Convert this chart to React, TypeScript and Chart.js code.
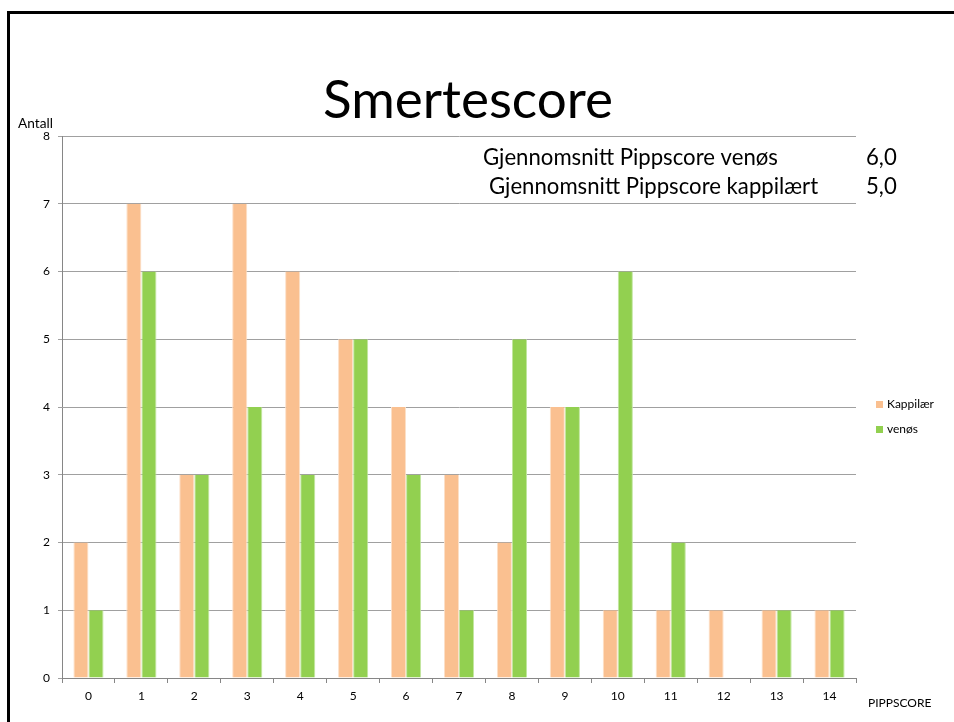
import React, { useEffect, useRef } from "react";
import { Chart, registerables } from "chart.js";

Chart.register(...registerables);

const categories = ["0", "1", "2", "3", "4", "5", "6", "7", "8", "9", "10", "11", "12", "13", "14"];
const kapillaer = [2, 7, 3, 7, 6, 5, 4, 3, 2, 4, 1, 1, 1, 1, 1];
const venos = [1, 6, 3, 4, 3, 5, 3, 1, 5, 4, 6, 2, 0, 1, 1];
const seriesNames = ["Kappilær", "venøs"];
const seriesColors = ["#FAC090", "#92D050"];
const chartTitle = "Smertescore";
const yAxisTitle = "Antall";
const xAxisTitle = "PIPPSCORE";
const noteLines = ["Gjennomsnitt Pippscore venøs", "Gjennomsnitt Pippscore kappilært"];
const noteValues = ["6,0", "5,0"];

const FONT = "Lato, 'Open Sans', sans-serif";

function fitFont(ctx: CanvasRenderingContext2D, text: string, width: number, base: number) {
  ctx.font = `${base}px ${FONT}`;
  const w = ctx.measureText(text).width;
  return base * (width / w);
}

const overlayPlugin = {
  id: "overlay",
  afterDraw(chart: any) {
    const ctx: CanvasRenderingContext2D = chart.ctx;
    ctx.save();
    // slide frame
    ctx.fillStyle = "#000";
    ctx.fillRect(7, 11, 3, 722);
    ctx.fillRect(7, 11, 954, 3);

    ctx.fillStyle = "#000";
    ctx.textBaseline = "middle";
    ctx.textAlign = "left";

    // title
    const ts = fitFont(ctx, chartTitle, 290, 48);
    ctx.font = `${ts}px ${FONT}`;
    ctx.fillText(chartTitle, 323, 101);

    // notes
    const ns = fitFont(ctx, noteLines[0], 295, 20);
    ctx.font = `${ns}px ${FONT}`;
    ctx.fillText(noteLines[0], 483, 158);
    ctx.fillText(noteLines[1], 489, 187);
    ctx.fillText(noteValues[0], 866, 158);
    ctx.fillText(noteValues[1], 866, 187);

    // axis titles
    const as = fitFont(ctx, yAxisTitle, 35, 12);
    ctx.font = `${as}px ${FONT}`;
    ctx.fillText(yAxisTitle, 18, 124);
    ctx.font = `12px ${FONT}`;
    ctx.fillText(xAxisTitle, 868, 703);

    // legend
    const lsz = fitFont(ctx, seriesNames[0], 47, 12);
    ctx.font = `${lsz}px ${FONT}`;
    const ly = [404.5, 429.5];
    seriesNames.forEach((n, i) => {
      ctx.fillStyle = seriesColors[i];
      ctx.fillRect(876, ly[i] - 3.5, 7, 7);
      ctx.fillStyle = "#000";
      ctx.fillText(n, 887, ly[i]);
    });
    ctx.restore();
  },
};

export default function App() {
  const ref = useRef<HTMLCanvasElement>(null);
  useEffect(() => {
    if (!ref.current) return;
    const chart = new Chart(ref.current, {
      type: "bar",
      data: {
        labels: categories,
        datasets: [
          {
            label: seriesNames[0],
            data: kapillaer,
            backgroundColor: seriesColors[0],
            borderColor: "#FCE0C8",
            borderWidth: { left: 1, right: 1, top: 0, bottom: 0 },
            categoryPercentage: 0.57,
            barPercentage: 1,
          },
          {
            label: seriesNames[1],
            data: venos,
            backgroundColor: seriesColors[1],
            borderColor: "#C2E6A0",
            borderWidth: { left: 1, right: 1, top: 0, bottom: 0 },
            categoryPercentage: 0.57,
            barPercentage: 1,
          },
        ],
      },
      options: {
        responsive: false,
        animation: false,
        layout: { padding: { left: 0, top: 136, right: 98, bottom: 14 } },
        plugins: {
          legend: { display: false },
          title: { display: false },
          tooltip: { enabled: false },
        },
        scales: {
          x: {
            offset: true,
            grid: {
              offset: true,
              drawOnChartArea: false,
              drawTicks: true,
              tickLength: 5,
              color: "#868686",
            },
            border: { color: "#868686", width: 1 },
            ticks: { color: "#000", font: { size: 12, family: FONT }, padding: 6, maxRotation: 0 },
            afterFit: (s: any) => {
              s.height = 30;
            },
          },
          y: {
            min: 0,
            max: 8,
            ticks: { stepSize: 1, color: "#000", font: { size: 12, family: FONT }, padding: 8 },
            grid: { color: "#a0a0a0", tickLength: 4, drawTicks: true },
            border: { color: "#868686", width: 1 },
            afterFit: (s: any) => {
              s.width = 62;
            },
          },
        },
      },
      plugins: [overlayPlugin],
    });
    return () => chart.destroy();
  }, []);
  return (
    <div style={{ position: "absolute", left: 0, top: 0, width: 954, height: 722, background: "#fff" }}>
      <canvas ref={ref} width={954} height={722} style={{ display: "block" }} />
    </div>
  );
}
